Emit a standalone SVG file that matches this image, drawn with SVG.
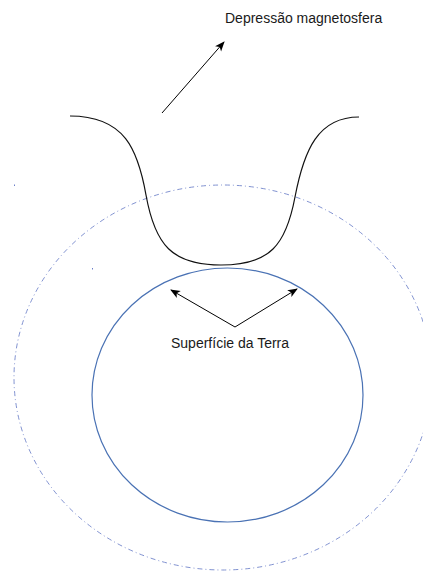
<svg xmlns="http://www.w3.org/2000/svg" width="423" height="571" viewBox="0 0 423 571">
<style>
.lbl{font-family:"Liberation Sans",Arial,sans-serif;font-size:14px;fill:#1a1a1a}
.conn{stroke:#000;stroke-width:1;fill:none}
</style>
<defs>
<marker id="ah" viewBox="0 0 10 10" refX="9" refY="5" markerWidth="10" markerHeight="10" markerUnits="userSpaceOnUse" orient="auto">
<path d="M0,1 L10,5 L0,9 L2.5,5 Z" fill="#000"/>
</marker>
</defs>
<rect width="423" height="571" fill="#fff"/>
<g id="magnetosfera">
<ellipse cx="223" cy="377.5" rx="209" ry="192.5" fill="none" stroke="#6b7fc8" stroke-width="1" stroke-dasharray="5 3 1 3" opacity="0.85"/>
<line x1="14.5" y1="184.5" x2="14.5" y2="186" stroke="#6b7fc8" stroke-width="1"/>
<line x1="92.5" y1="268" x2="92.5" y2="269.5" stroke="#6b7fc8" stroke-width="1"/>
</g>
<g id="terra">
<ellipse cx="227.5" cy="395" rx="135.5" ry="127" fill="none" stroke="#4a72b4" stroke-width="1.2"/>
</g>
<g id="depressao">
<path d="M70,116 C125,116 138,150 146,195 C155,245 172,265 221,265 C270,265 286,245 295,197 C304,150 318,117 359,117" fill="none" stroke="#111" stroke-width="1.2"/>
</g>
<g id="label-depressao">
<text class="lbl" x="225" y="23">Depressão magnetosfera</text>
</g>
<g id="label-superficie">
<text class="lbl" x="171" y="348">Superfície da Terra</text>
</g>
<g id="connectors">
<line class="conn" x1="162" y1="113" x2="224" y2="42" marker-end="url(#ah)"/>
<line class="conn" x1="235" y1="327" x2="171" y2="290" marker-end="url(#ah)"/>
<line class="conn" x1="235" y1="327" x2="297" y2="289" marker-end="url(#ah)"/>
</g>
</svg>
